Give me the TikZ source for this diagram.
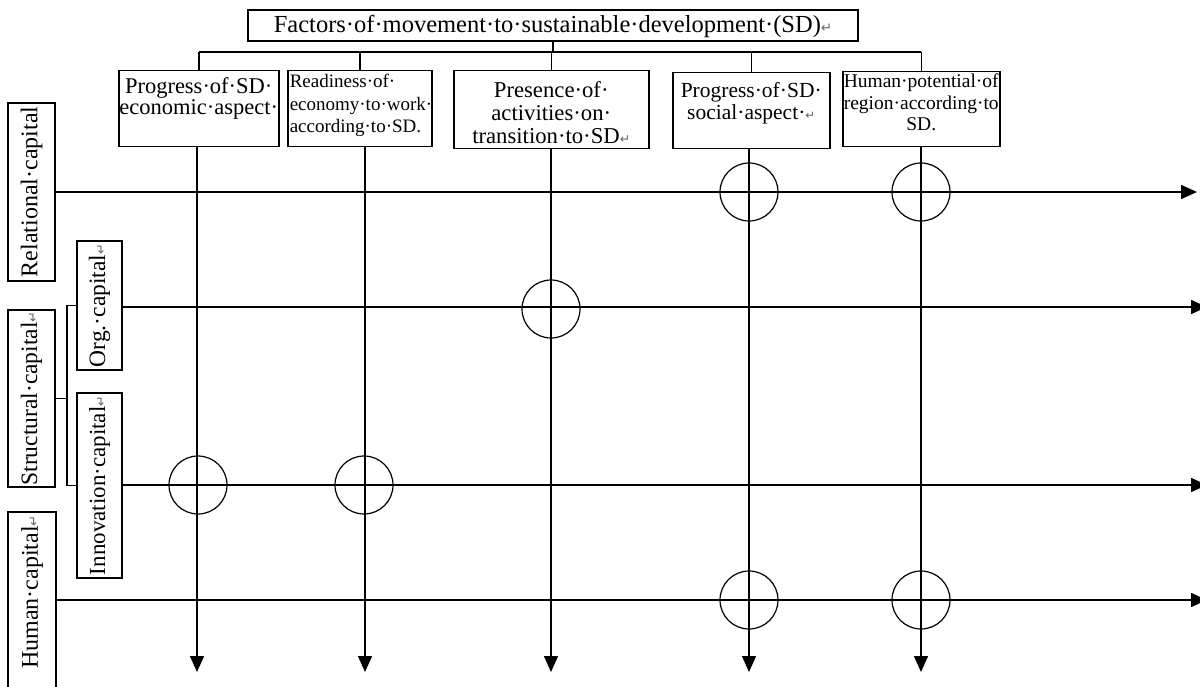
\documentclass[tikz,border=0pt]{standalone}
\usepackage{fontspec}
\setmainfont{Liberation Serif}
\newfontfamily\djv{DejaVu Sans}
\usetikzlibrary{arrows.meta}
\newcommand\pmk{{\djv\color{black!60}\scalebox{0.55}{↵}}}
\newcommand\fs[2]{\fontsize{#1}{#2}\selectfont}
\begin{document}
\begin{tikzpicture}[x=1pt,y=-1pt,
  every node/.style={inner sep=0pt},
  box/.style={draw, line width=1.5pt, anchor=north west},
  vlab/.style={draw, line width=1.5pt, rotate=90},
  conn/.style={line width=1.5pt},
  arr/.style={line width=1.5pt, -{Triangle[length=16pt,width=14pt]}},
  ring/.style={circle, draw, line width=1.2pt, minimum size=58pt}]
\useasboundingbox (0,0) rectangle (1200,687);
\fill[white] (0,0) rectangle (1200,687);
% title
\node[draw, line width=1.5pt, minimum width=610pt, minimum height=31pt,
      text height=19pt, text depth=4pt] (t) at (553,25.5)
  {\fs{24.5}{26}Factors·of·movement·to·sustainable·development·(SD)\pmk};
% factor boxes
\node[box] (b1) at (118,70) {\parbox[b][76pt][t]{160pt}{\centering\fs{22.5}{21}\rule{0pt}{23pt}Progress·of·SD·\\economic·aspect·}};
\node[box] (b2) at (287,70) {\parbox[b][76pt][t]{144pt}{\raggedright\leftskip=2pt\fs{19}{22.5}\rule{0pt}{17pt}Readiness·of·\\economy·to·work·\\according·to·SD.}};
\node[box] (b3) at (453,70) {\parbox[b][78pt][t]{195pt}{\centering\fs{22.7}{23}\rule{0pt}{26.5pt}Presence·of·\\activities·on·\\transition·to·SD\pmk}};
\node[box] (b4) at (672,72) {\parbox[b][76pt][t]{157pt}{\centering\fs{21.5}{21.5}\rule{0pt}{25pt}Progress·of·SD·\\social·aspect·\pmk}};
\node[box] (b5) at (842,71) {\parbox[b][75pt][t]{157pt}{\centering\fs{19.5}{21.5}\rule{0pt}{16pt}Human·potential·of\\region·according·to\\SD.}};
% top connectors
\coordinate (j) at (552,52);
\draw[conn] (t.south) -- (t.south |- j);
\draw[conn] (b1.north |- j) -- (b5.north |- j);
\foreach \b in {b1,b2,b3,b4,b5} \draw[conn] (\b.north) -- (\b.north |- j);
% capital labels
\node[vlab, minimum width=178pt, minimum height=47pt] (rel) at (31.5,192) {\fs{24}{24}Relational·capital};
\node[vlab, minimum width=177pt, minimum height=47pt] (str) at (31.5,398.5) {\fs{23.5}{24}Structural·capital\pmk};
\node[vlab, minimum width=129pt, minimum height=45pt] (org) at (99.5,305.5) {\fs{23.5}{24}Org.·capital\pmk};
\node[vlab, minimum width=185pt, minimum height=45pt] (inn) at (99.5,485.5) {\fs{23}{24}Innovation·capital\pmk};
\node[vlab, minimum width=198pt, minimum height=48pt, text width=192pt, align=right] (hum) at (32,611) {\fs{24}{24}Human·capital\pmk};
% bracket for structural capital
\coordinate (bk) at (67,398.5);
\draw[conn] (str.south) -- (bk);
\draw[conn] (org.north) -| (bk) |- (inn.north);
% end points
\coordinate (e1) at (197,672);
\coordinate (e2) at (365,672);
\coordinate (e3) at (551,672);
\coordinate (e4) at (749,672);
\coordinate (e5) at (921,672);
\coordinate (rE) at (1197,192);
\coordinate (oE) at (1207,307);
\coordinate (iE) at (1207,485);
\coordinate (hE) at (1207,600);
% horizontal arrows
\draw[arr] (rel.south) -- (rE);
\draw[arr] (org.south |- oE) -- (oE);
\draw[arr] (inn.south |- iE) -- (iE);
\draw[arr] (hum.south |- hE) -- (hE);
% vertical arrows
\draw[arr] (b1.south -| e1) -- (e1);
\draw[arr] (b2.south -| e2) -- (e2);
\draw[arr] (b3.south -| e3) -- (e3);
\draw[arr] (b4.south -| e4) -- (e4);
\draw[arr] (b5.south -| e5) -- (e5);
% rings at intersections
\node[ring] (k1) at (749,192) {};
\node[ring] (k2) at (921,192) {};
\node[ring] (k3) at (551,309) {};
\node[ring] (k4) at (198,485) {};
\node[ring] (k5) at (364,485) {};
\node[ring] (k6) at (749,600) {};
\node[ring] (k7) at (921,600) {};
\end{tikzpicture}
\end{document}
